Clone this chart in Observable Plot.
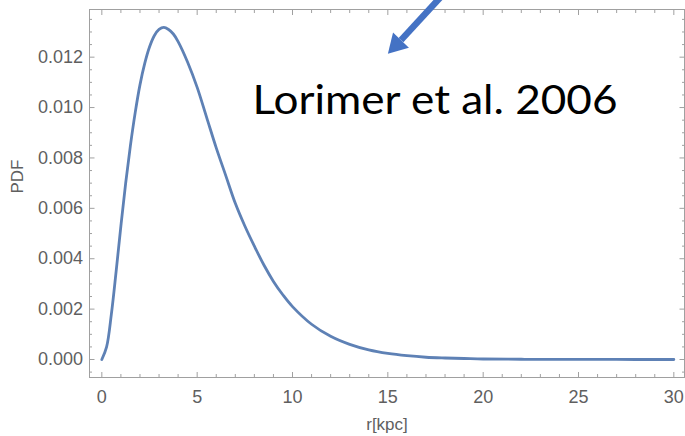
<!DOCTYPE html>
<html><head><meta charset="utf-8">
<script src="https://cdn.jsdelivr.net/npm/d3@7"></script>
<script src="https://cdn.jsdelivr.net/npm/@observablehq/plot@0.6"></script>
<style>html,body{margin:0;padding:0;background:#fff}#chart svg{display:block}</style>
</head><body><div id="chart"></div>
<script>
// curve values
const radius = [0, 0.25, 0.5, 0.75, 1, 1.25, 1.5, 1.75, 2, 2.25, 2.5, 2.75, 3, 3.25, 3.5, 3.75, 4, 4.5, 5, 5.5, 6, 6.5, 7, 7.5, 8, 8.5, 9, 9.5, 10, 11, 12, 13, 14, 15, 16, 17, 18, 19, 20, 22, 24, 26, 28, 30];
const pdf = [0, 0.0005, 0.0018, 0.0035, 0.0053, 0.0070, 0.0085, 0.0098, 0.0109, 0.01175, 0.0124, 0.01285, 0.0131, 0.01318, 0.0131, 0.01292, 0.01262, 0.0118, 0.0108, 0.0096, 0.0084, 0.0073, 0.0062, 0.0053, 0.0045, 0.00375, 0.0031, 0.00256, 0.0021, 0.0014, 0.00092, 0.0006, 0.00038, 0.00024, 0.00015, 0.00009, 0.00006, 0.00004, 0.00002, 0.00001, 0.000004, 0.000002, 0.000001, 0];

// ticks
const xMajorTicks = [0, 5, 10, 15, 20, 25, 30];
const xMinorTicks = [1, 2, 3, 4, 6, 7, 8, 9, 11, 12, 13, 14, 16, 17, 18, 19, 21, 22, 23, 24, 26, 27, 28, 29];
const yMajorTicks = [0, 0.002, 0.004, 0.006, 0.008, 0.010, 0.012];
const yMinorTicks = [-0.0005, 0.0005, 0.001, 0.0015, 0.0025, 0.003, 0.0035, 0.0045, 0.005, 0.0055, 0.0065, 0.007, 0.0075, 0.0085, 0.009, 0.0095, 0.0105, 0.011, 0.0115, 0.0125, 0.013, 0.0135];

// labels and annotation
const xLabel = "r[kpc]";
const yLabel = "PDF";
const noteText = ["Lorimer et al. 2006"];
const noteR = [7.9];
const notePdf = [0.00975];
const arrowR = [18.03, 15.69];      // shaft start, shaft end (head base)
const arrowPdf = [0.0146, 0.012678];
const headR = [15.46];
const headPdf = [0.012496];

const gray = "#a0a0a0";
const labelGray = "#5f5f5f";
const font = "Liberation Sans, Arial, sans-serif";

const tickAxes = (size, ticks) => [
  Plot.axisX({anchor: "bottom", ticks, tickSize: size, dy: -size, tickFormat: () => "", label: null, stroke: gray}),
  Plot.axisX({anchor: "top", ticks, tickSize: size, dy: size, tickFormat: () => "", label: null, stroke: gray})
];
const tickAxesY = (size, ticks) => [
  Plot.axisY({anchor: "left", ticks, tickSize: size, dx: size, tickFormat: () => "", label: null, stroke: gray}),
  Plot.axisY({anchor: "right", ticks, tickSize: size, dx: -size, tickFormat: () => "", label: null, stroke: gray})
];

const chart = Plot.plot({
  width: 685,
  height: 436,
  marginLeft: 89,
  marginRight: 1,
  marginTop: 9,
  marginBottom: 59,
  style: {fontFamily: font, fontSize: "18px", background: "#fff", overflow: "hidden"},
  x: {domain: [-0.647, 30.559]},
  y: {domain: [-0.000714, 0.013892]},
  marks: [
    ...tickAxes(5, xMajorTicks),
    ...tickAxes(3, xMinorTicks),
    ...tickAxesY(5.5, yMajorTicks),
    ...tickAxesY(3, yMinorTicks),
    Plot.axisX({anchor: "bottom", ticks: xMajorTicks, tickSize: 0, tickPadding: 13, label: null, fill: labelGray, fontSize: 18}),
    Plot.axisY({anchor: "left", ticks: yMajorTicks, tickSize: 0, tickPadding: 6.5, tickFormat: d3.format(".3f"), label: null, fill: labelGray, fontSize: 18}),
    Plot.frame({stroke: gray}),
    Plot.line(radius, {x: radius, y: pdf, stroke: "#5e81b5", strokeWidth: 2.8, curve: "catmull-rom"}),
    Plot.text([xLabel], {frameAnchor: "bottom", dy: 52, lineAnchor: "bottom", text: d => d, fill: labelGray, fontSize: 17}),
    Plot.text([yLabel], {frameAnchor: "left", dx: -72, dy: 0, rotate: -90, text: d => d, fill: labelGray, fontSize: 17}),
    Plot.text(noteText, {x: noteR, y: notePdf, text: d => d, textAnchor: "start", lineAnchor: "bottom", fill: "#000", fontSize: 41, fontFamily: "Lato, sans-serif", className: "note"}),
    Plot.link([0], {x1: [arrowR[0]], y1: [arrowPdf[0]], x2: [arrowR[1]], y2: [arrowPdf[1]], stroke: "#4472c4", strokeWidth: 6.5}),
    Plot.dot(headR, {x: headR, y: headPdf, symbol: "triangle", r: 8.14, rotate: 223.6, fill: "#4472c4", stroke: "none"})
  ]
});
document.getElementById("chart").appendChild(chart);
d3.select(chart).selectAll(".note text").attr("textLength", 365).attr("lengthAdjust", "spacingAndGlyphs");
</script>
</body></html>
